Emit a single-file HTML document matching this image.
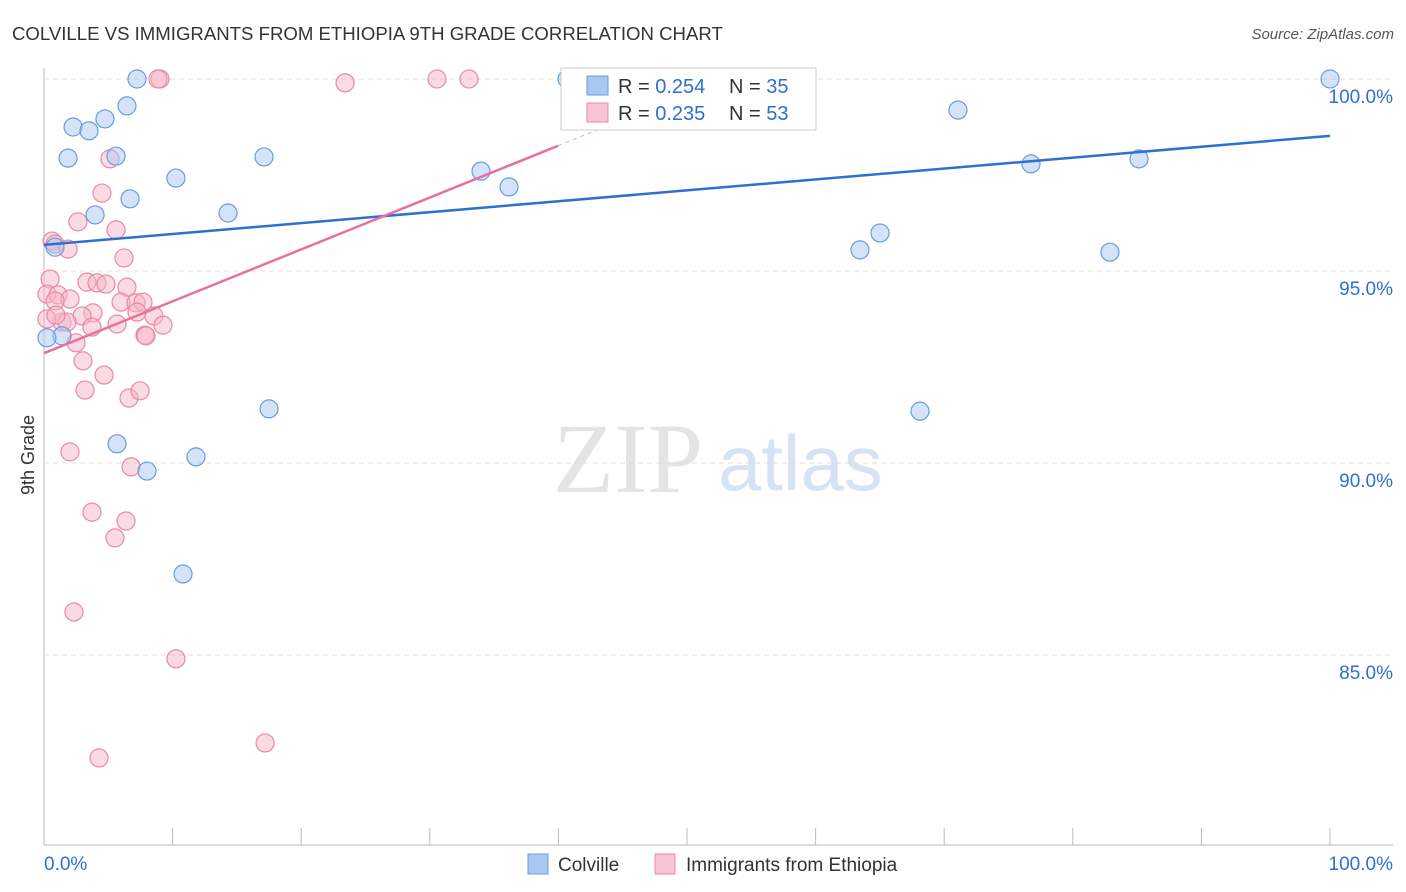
<!DOCTYPE html>
<html><head><meta charset="utf-8"><style>
body{margin:0;background:#fff;font-family:"Liberation Sans",sans-serif;}
svg{display:block}
</style></head><body>
<svg id="chart" width="1406" height="892">
<text x="12" y="40" font-size="18.6" fill="#333">COLVILLE VS IMMIGRANTS FROM ETHIOPIA 9TH GRADE CORRELATION CHART</text>
<text x="1394" y="39" font-size="15" fill="#555" font-style="italic" text-anchor="end">Source: ZipAtlas.com</text>
<text x="553" y="492" font-size="100" fill="#e4e4e4" font-family="Liberation Serif,serif">ZIP</text>
<text x="718" y="490" font-size="78" fill="#d6e3f5">atlas</text>
<text transform="translate(34,455) rotate(-90)" font-size="18" fill="#333" text-anchor="middle">9th Grade</text>
<g id="grid"></g><g id="pts"></g><g id="lines"></g>
<g>
<rect x="561" y="68" width="255" height="62" fill="#fff" stroke="#ccc"/>
<rect x="587" y="76" width="21" height="19" fill="#a9c8f0" stroke="#6a9be0"/>
<rect x="587" y="103" width="21" height="19" fill="#f8c3d3" stroke="#e889a8"/>
<text x="618" y="93" font-size="20" fill="#333">R = <tspan fill="#2f6fd0">0.254</tspan></text>
<text x="729" y="93" font-size="20" fill="#333">N = <tspan fill="#2f6fd0">35</tspan></text>
<text x="618" y="120" font-size="20" fill="#333">R = <tspan fill="#2f6fd0">0.235</tspan></text>
<text x="729" y="120" font-size="20" fill="#333">N = <tspan fill="#2f6fd0">53</tspan></text>
</g>
<g>
<rect x="528" y="854" width="20" height="20" fill="#a9c8f0" stroke="#6a9be0"/>
<text x="558" y="871" font-size="19" fill="#333">Colville</text>
<rect x="655" y="854" width="20" height="20" fill="#f8c3d3" stroke="#e889a8"/>
<text x="686" y="871" font-size="19" fill="#333">Immigrants from Ethiopia</text>
</g>
</svg>
<script>
const blueX=[7.23,6.45,2.26,3.50,4.74,1.87,5.60,17.11,10.26,6.69,3.97,14.31,0.86,1.40,0.23,17.50,5.68,11.82,8.01,10.81,33.98,36.16,40.67,42.46,46.03,53.50,71.07,76.75,85.15,100,63.45,65.01,82.89,68.12,50.23];
const blueY=[100,99.30,98.75,98.65,98.96,97.94,97.99,97.97,97.42,96.88,96.46,96.51,95.62,93.31,93.26,91.41,90.50,90.16,89.79,87.11,97.60,97.19,100,100,100,100,99.19,97.79,97.92,100,95.55,95.99,95.49,91.35,100];
const pinkX=[9.02,8.86,23.41,30.56,33.05,5.13,4.51,2.64,5.60,0.62,0.86,1.87,6.22,0.47,3.34,4.12,4.82,6.45,0.23,1.09,2.02,0.86,5.99,7.15,7.70,3.81,2.96,7.23,8.55,1.40,1.79,3.73,5.68,9.25,7.85,7.93,2.49,3.03,4.67,3.19,6.61,7.47,2.02,6.77,3.73,6.38,5.52,2.33,10.26,17.19,4.28,0.23,0.93];
const pinkY=[100,100,99.90,100,100,97.92,97.03,96.28,96.07,95.78,95.70,95.57,95.34,94.79,94.71,94.69,94.66,94.58,94.40,94.38,94.27,94.22,94.19,94.17,94.19,93.91,93.83,93.93,93.83,93.67,93.67,93.54,93.62,93.59,93.33,93.31,93.13,92.66,92.29,91.90,91.69,91.88,90.29,89.90,88.72,88.49,88.05,86.12,84.90,82.71,82.32,93.75,93.85];
const blueLine=[95.68,98.52];
const pinkLine=[92.86,98.26,39.97];
const yTicks=[100,95,90,85];
const xTickVals=[0,10,20,30,40,50,60,70,80,90,100];
const NS="http://www.w3.org/2000/svg";
const X=v=>44+v*12.86, Y=v=>79+(100-v)*38.4;
function mk(t,a,p){const e=document.createElementNS(NS,t);for(const k in a)e.setAttribute(k,a[k]);p.appendChild(e);return e;}
const grid=document.getElementById('grid'),pts=document.getElementById('pts'),lines=document.getElementById('lines');
let e=mk('line',{x1:44,y1:68,x2:44,y2:845,stroke:'#bbb'},grid);


e=mk('line',{x1:44,y1:845,x2:1393,y2:845,stroke:'#bbb'},grid);


yTicks.forEach(v=>{
 let g=mk('line',{x1:44,y1:Y(v),x2:1393,y2:Y(v),stroke:'#ddd','stroke-dasharray':'5,4'},grid);
 
 
 let t=mk('text',{x:1393,y:Y(v)+24,'font-size':19,fill:'#2f6fd0','text-anchor':'end'},grid);t.textContent=v.toFixed(1)+'%';
 
 
});
xTickVals.forEach(v=>{
 let g=mk('line',{x1:X(v),y1:828,x2:X(v),y2:845,stroke:'#bbb'},grid);
 
 
});
[[0,'0.0%','start',44],[100,'100.0%','end',1393]].forEach(d=>{
 let t=mk('text',{x:d[3],y:870,'font-size':19,fill:'#2f6fd0','text-anchor':d[2]},grid);t.textContent=d[1];
 
 
});
pinkX.forEach((x,i)=>{
 let c=mk('circle',{cx:X(x),cy:Y(pinkY[i]),r:9,fill:'#f5b5c8','fill-opacity':0.5,stroke:'#e889a8','stroke-width':1.2},pts);
 
 
});
blueX.forEach((x,i)=>{
 let c=mk('circle',{cx:X(x),cy:Y(blueY[i]),r:9,fill:'#a9c8f0','fill-opacity':0.5,stroke:'#6a9be0','stroke-width':1.2},pts);
 
 
});
let l=mk('line',{x1:X(0),y1:Y(blueLine[0]),x2:X(100),y2:Y(blueLine[1]),stroke:'#2f6fd0','stroke-width':2.5},lines);


l=mk('line',{x1:X(0),y1:Y(pinkLine[0]),x2:X(pinkLine[2]),y2:Y(pinkLine[1]),stroke:'#e8709a','stroke-width':2.5},lines);


const sl=(pinkLine[1]-pinkLine[0])/pinkLine[2];
l=mk('line',{x1:X(pinkLine[2]),y1:Y(pinkLine[1]),x2:X(45),y2:Y(pinkLine[0]+sl*45),stroke:'#e8a0b8','stroke-width':1,'stroke-dasharray':'4,4'},lines);


</script>
</body></html>
